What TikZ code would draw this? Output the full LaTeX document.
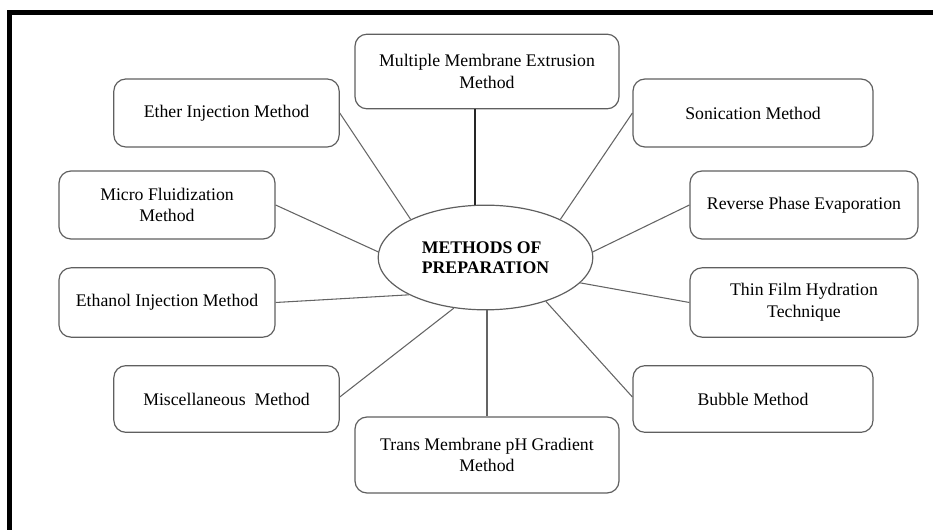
\documentclass[tikz,border=0pt]{standalone}
\usepackage{fontspec}
\setmainfont{Liberation Serif}
\definecolor{boxgray}{RGB}{95, 95, 95}
\definecolor{linkgray}{RGB}{100, 100, 100}
\usepackage{tikz}
\usetikzlibrary{shapes, positioning, calc}

\begin{document}
\begin{tikzpicture}[x=0.75pt, y=-0.75pt,
  methodbox/.style={draw=boxgray, line width=0.9pt, rounded corners=9pt, align=center, inner sep=2pt,
    font=\fontsize{13.3}{16.3}\selectfont},
  link/.style={draw=linkgray, line width=0.8pt}]
  \useasboundingbox (0, 0) rectangle (933, 530);

  % Frame (cut off on the right and at the bottom)
  \draw[line width=4pt] (9.8, 530) -- (9.8, 12.2) -- (933, 12.2);

  % Centre
  \node[draw=boxgray, line width=0.9pt, ellipse, minimum width=161pt, minimum height=78.5pt, inner sep=0pt,
    align=left, font=\fontsize{13.3}{15}\selectfont\bfseries] (prep) at (485.5, 257.5) {METHODS OF\\PREPARATION};

  % Top and bottom
  \node[methodbox, minimum width=198pt, minimum height=56pt] (mult) at (487, 71.5) {Multiple Membrane Extrusion\\Method};
  \node[methodbox, minimum width=198pt, minimum height=57pt] (trans) at (487, 455) {Trans Membrane pH Gradient\\Method};

  % Left branches
  \node[methodbox, minimum width=169pt, minimum height=51pt] (ether) at (226.5, 113) {Ether Injection Method};
  \node[methodbox, minimum width=162pt, minimum height=51pt] (micro) at (167, 205) {Micro Fluidization\\Method};
  \node[methodbox, minimum width=162pt, minimum height=52pt] (ethanol) at (167, 302.5) {Ethanol Injection Method};
  \node[methodbox, minimum width=169pt, minimum height=50pt] (misc) at (226.5, 399) {Miscellaneous\ \ Method};

  % Right branches
  \node[methodbox, minimum width=180pt, minimum height=51pt] (sonic) at (753, 113) {Sonication Method};
  \node[methodbox, minimum width=171pt, minimum height=51pt] (reverse) at (804, 205) {Reverse Phase Evaporation};
  \node[methodbox, minimum width=171pt, minimum height=52pt] (thin) at (804, 302.5) {Thin Film Hydration\\Technique};
  \node[methodbox, minimum width=180pt, minimum height=50pt] (bubble) at (753, 399) {Bubble Method};

  % Connectors
  \draw[line width=1.4pt, black!85] ([xshift=-9pt]mult.south) -- ([xshift=-9pt]mult.south |- prep.north);
  \draw[link] (trans.north |- prep.south) -- (trans.north);
  \draw[link] (ether.east) -- (prep.153);
  \draw[link] (micro.east) -- (prep.177);
  \draw[link] (ethanol.east) -- (prep.206);
  \draw[link] ([yshift=1.5pt]misc.east) -- (prep.238);
  \draw[link] (sonic.west) -- (prep.27);
  \draw[link] (reverse.west) -- (prep.3);
  \draw[link] (thin.west) -- (prep.345);
  \draw[link] ([yshift=1.5pt]bubble.west) -- (prep.324);
\end{tikzpicture}
\end{document}
